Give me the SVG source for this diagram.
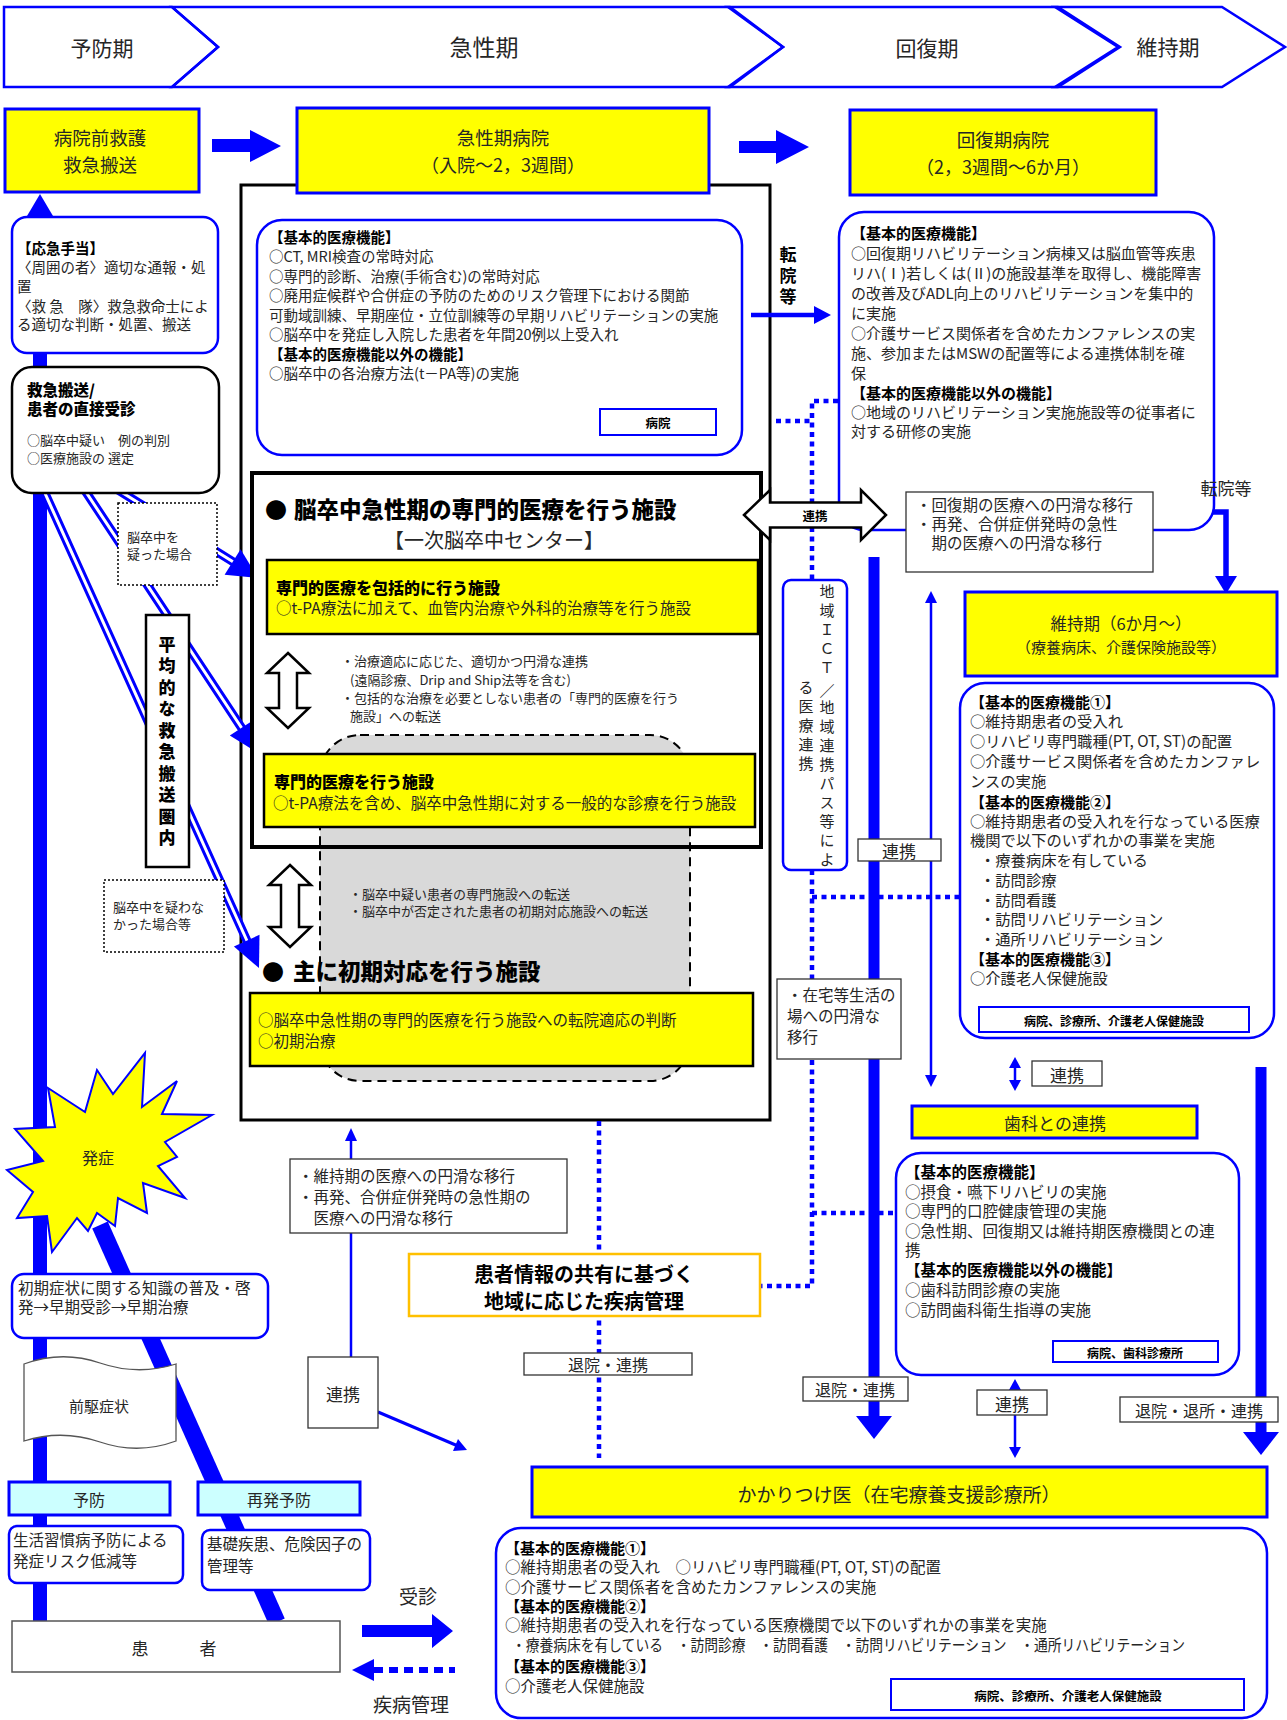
<svg xmlns="http://www.w3.org/2000/svg" width="1287" height="1720" viewBox="0 0 1287 1720">
<defs>
<style>
text{font-family:"Noto Sans CJK JP","Noto Sans CJK SC",sans-serif;dominant-baseline:central;fill:#262626}
.b{font-weight:bold;fill:#000}
.h{font-weight:900;fill:#000}
.c{text-anchor:middle}
.v{writing-mode:vertical-rl}
.yb{fill:#ff0;stroke:#00f;stroke-width:3}
.yk{fill:#ff0;stroke:#000;stroke-width:2.5}
.rb{fill:#fff;stroke:#00f;stroke-width:2.5}
.lb{fill:#fff;stroke:#333;stroke-width:1.3}
.sb{fill:#fff;stroke:#00f;stroke-width:2}
.dt{fill:#fff;stroke:#000;stroke-width:1.5;stroke-dasharray:2 2}
.dot{fill:none;stroke:#00f;stroke-width:4.5;stroke-dasharray:5 4.5}
.thick{fill:none;stroke:#00f;stroke-width:11}
.thin{fill:none;stroke:#00f;stroke-width:2.5}
.ah{fill:#00f}
.dl{fill:none;stroke:#00f;stroke-width:9}
.dw{fill:none;stroke:#fff;stroke-width:3}
.hollow{fill:#fff;stroke:#000;stroke-width:2.5}
.ph{fill:none;stroke:#00f;stroke-width:2.5}
</style>
</defs>
<rect x="0" y="0" width="1287" height="1720" fill="#fff"/>

<!-- phase banner -->
<g id="phase-iji">
<polygon points="1055,7 1222,7 1285,47 1222,87 1055,87 1118,47" fill="#fff" class="ph"/>
<text x="1168" y="46" class="c" font-size="21">維持期</text>
</g>
<g id="phase-kaifuku">
<polygon points="728,7 1058,7 1120,47 1058,87 728,87 783,47" fill="#ccffff" class="ph"/>
<text x="927" y="47" class="c" font-size="21">回復期</text>
</g>
<g id="phase-kyusei">
<polygon points="172,7 730,7 783,47 730,87 172,87 218,47" fill="#00ffff" class="ph"/>
<text x="484" y="46" class="c" font-size="23">急性期</text>
</g>
<g id="phase-yobo">
<polygon points="4,7 172,7 218,47 172,87 4,87" fill="#fff" class="ph"/>
<text x="102" y="47" class="c" font-size="21">予防期</text>
</g>

<!-- acute container -->
<g id="acute-container">
<rect x="241" y="185" width="529" height="935" fill="#fff" stroke="#000" stroke-width="3"/>
</g>

<g id="connectors">
<!-- left main bar -->
<line x1="40" y1="214" x2="40" y2="1622" stroke="#00f" stroke-width="14"/>
<polygon class="ah" points="27,216 53,216 40,194"/>
<!-- thick diagonal -->
<line x1="100" y1="1225" x2="277" y2="1622" stroke="#00f" stroke-width="17"/>
<!-- double lines -->
<path class="dl" d="M39,480 L248,943 M78,480 L243,730 M102,480 L235,563"/>
<path class="dw" d="M39,480 L248,943 M78,480 L243,730 M102,480 L235,563"/>
<polygon class="ah" points="259,968 259.5,934.8 233.9,946.4"/>
<polygon class="ah" points="258,753 253.2,720.2 229.8,735.6"/>
<polygon class="ah" points="258,578 240.6,549.3 224.6,574.7"/>
<!-- top block arrows -->
<polygon class="ah" points="212,139 250,139 250,130 281,146 250,162 250,152 212,152"/>
<polygon class="ah" points="739,141 776,141 776,130 809,147 776,164 776,153 739,153"/>
<!-- 転院等 arrow -->
<line x1="751" y1="315" x2="815" y2="315" stroke="#00f" stroke-width="4.5"/>
<polygon class="ah" points="814,306 831,315 814,324"/>
<!-- dotted network -->
<polyline class="dot" points="776,421 812,421"/>
<polyline class="dot" points="838,401 812,401 812,580"/>
<polyline class="dot" points="812,870 812,1286 760,1286"/>
<polyline class="dot" points="812,897 962,897"/>
<polyline class="dot" points="812,1213 896,1213"/>
<line class="dot" x1="599" y1="1121" x2="599" y2="1458"/>
<!-- thick vertical 874 -->
<line class="thick" x1="874" y1="557" x2="874" y2="1418"/>
<polygon class="ah" points="856,1416 892,1416 874,1439"/>
<!-- thin 931 -->
<line class="thin" x1="931" y1="600" x2="931" y2="1078"/>
<polygon class="ah" points="925,603 937,603 931,591"/>
<polygon class="ah" points="925,1075 937,1075 931,1087"/>
<!-- small double arrows 1015 -->
<line class="thin" x1="1015" y1="1064" x2="1015" y2="1084"/>
<polygon class="ah" points="1009,1068 1021,1068 1015,1057"/>
<polygon class="ah" points="1009,1080 1021,1080 1015,1091"/>
<line class="thin" x1="1015" y1="1386" x2="1015" y2="1451"/>
<polygon class="ah" points="1009,1390 1021,1390 1015,1379"/>
<polygon class="ah" points="1009,1447 1021,1447 1015,1458"/>
<!-- right thick -->
<line class="thick" x1="1261" y1="1067" x2="1261" y2="1434"/>
<polygon class="ah" points="1243,1432 1279,1432 1261,1455"/>
<!-- 回復期 -> 維持期 -->
<polyline points="1159,512 1226,512 1226,578" fill="none" stroke="#00f" stroke-width="5.5"/>
<polygon class="ah" points="1215,576 1237,576 1226,594"/>
<!-- thin 351 -->
<line class="thin" x1="351" y1="1137" x2="351" y2="1357"/>
<polygon class="ah" points="345,1141 357,1141 351,1128"/>
<!-- 連携 -> lower right -->
<line x1="378" y1="1412" x2="458" y2="1446" stroke="#00f" stroke-width="3"/>
<polygon class="ah" points="467,1450 453,1451 458,1439"/>
<!-- 受診 arrow -->
<polygon class="ah" points="362,1625 432,1625 432,1614 453,1631 432,1648 432,1637 362,1637"/>
<!-- 疾病管理 dashed arrow -->
<line x1="374" y1="1670" x2="455" y2="1670" stroke="#00f" stroke-width="6" stroke-dasharray="9 6"/>
<polygon class="ah" points="352,1670 374,1659 374,1681"/>
</g>

<!-- top row boxes -->
<g id="prehospital">
<rect x="5" y="109" width="194" height="83" class="yb"/>
<text x="100" y="137" class="c" font-size="18.5">病院前救護</text>
<text x="100" y="164" class="c" font-size="18.5">救急搬送</text>
</g>
<g id="acute-hospital">
<rect x="297" y="108" width="412" height="85" class="yb"/>
<text x="503" y="137" class="c" font-size="18.5">急性期病院</text>
<text x="503" y="164" class="c" font-size="18">（入院～2，3週間）</text>
</g>
<g id="recovery-hospital">
<rect x="850" y="110" width="306" height="85" class="yb"/>
<text x="1003" y="139" class="c" font-size="18.5">回復期病院</text>
<text x="1003" y="166" class="c" font-size="18">（2，3週間～6か月）</text>
</g>

<!-- left column -->
<g id="first-aid">
<rect x="12" y="217" width="206" height="136" rx="15" class="rb"/>
<text x="17" y="247" class="b" font-size="14.5">【応急手当】</text>
<text x="17" y="266" font-size="14.5">〈周囲の者〉適切な通報・処</text>
<text x="17" y="285" font-size="14.5">置</text>
<text x="17" y="305" font-size="14.5">〈救 急　隊〉救急救命士によ</text>
<text x="17" y="323" font-size="14.5">る適切な判断・処置、搬送</text>
</g>
<g id="transport">
<rect x="12" y="367" width="207" height="126" rx="20" fill="#fff" stroke="#000" stroke-width="2.5"/>
<text x="27" y="389" class="h" font-size="15.5">救急搬送/</text>
<text x="27" y="408" class="h" font-size="15.5">患者の直接受診</text>
<text x="27" y="439" font-size="13" fill="#000">○脳卒中疑い　例の判別</text>
<text x="27" y="457" font-size="13" fill="#000">○医療施設の 選定</text>
</g>
<g id="suspected">
<rect x="118" y="503" width="99" height="82" class="dt"/>
<text x="127" y="536" font-size="13" fill="#000">脳卒中を</text>
<text x="127" y="553" font-size="13" fill="#000">疑った場合</text>
</g>
<g id="average-area">
<rect x="146" y="615" width="43" height="252" fill="#fff" stroke="#000" stroke-width="2.5"/>
<text x="167" y="636" class="h v" font-size="17" letter-spacing="4.5">平均的な救急搬送圏内</text>
</g>
<g id="not-suspected">
<rect x="104" y="880" width="120" height="72" class="dt"/>
<text x="113" y="906" font-size="13" fill="#000">脳卒中を疑わな</text>
<text x="113" y="923" font-size="13" fill="#000">かった場合等</text>
</g>

<!-- acute inner content -->
<g id="acute-functions">
<rect x="257" y="220" width="485" height="235" rx="25" class="rb"/>
<text x="269" y="236" class="b" font-size="14.5">【基本的医療機能】</text>
<text x="269" y="255.5" font-size="14.5">○CT, MRI検査の常時対応</text>
<text x="269" y="275" font-size="14.5">○専門的診断、治療(手術含む)の常時対応</text>
<text x="269" y="294.5" font-size="14.5">○廃用症候群や合併症の予防のためのリスク管理下における関節</text>
<text x="269" y="314" font-size="14.5">可動域訓練、早期座位・立位訓練等の早期リハビリテーションの実施</text>
<text x="269" y="333.5" font-size="14.5">○脳卒中を発症し入院した患者を年間20例以上受入れ</text>
<text x="269" y="353" class="b" font-size="14.5">【基本的医療機能以外の機能】</text>
<text x="269" y="372.5" font-size="14.5">○脳卒中の各治療方法(t－PA等)の実施</text>
<rect x="600" y="409" width="116" height="26" class="sb"/>
<text x="658" y="422" class="b c" font-size="12.5">病院</text>
</g>
<g id="stroke-center">
<rect x="252" y="473" width="509" height="374" fill="#fff"/>
<rect x="320" y="735" width="370" height="346" rx="40" fill="#d9d9d9" stroke="#000" stroke-width="2" stroke-dasharray="9 6"/>
<rect x="252" y="473" width="509" height="374" fill="none" stroke="#000" stroke-width="4"/>
<text x="276" y="508" class="h c" font-size="22">●</text>
<text x="294" y="508" class="h" font-size="22.5">脳卒中急性期の専門的医療を行う施設</text>
<text x="494" y="539" class="c" font-size="20" fill="#000">【一次脳卒中センター】</text>
</g>
<g id="comprehensive">
<rect x="267" y="560" width="491" height="74" class="yk"/>
<text x="276" y="587" class="h" font-size="16">専門的医療を包括的に行う施設</text>
<text x="276" y="607" font-size="15.5" fill="#000">○t-PA療法に加えて、血管内治療や外科的治療等を行う施設</text>
</g>
<g id="link1">
<polygon class="hollow" points="288,653 309,673 297,673 297,708 309,708 288,728 267,708 279,708 279,673 267,673"/>
<text x="341" y="660" font-size="13">・治療適応に応じた、適切かつ円滑な連携</text>
<text x="350" y="679" font-size="13">(遠隔診療、Drip and Ship法等を含む)</text>
<text x="341" y="697" font-size="13">・包括的な治療を必要としない患者の「専門的医療を行う</text>
<text x="350" y="715" font-size="13">施設」への転送</text>
</g>
<g id="specialized">
<rect x="264" y="754" width="491" height="73" class="yk"/>
<text x="274" y="781" class="h" font-size="16">専門的医療を行う施設</text>
<text x="273" y="802" font-size="15.5" fill="#000">○t-PA療法を含め、脳卒中急性期に対する一般的な診療を行う施設</text>
</g>
<g id="link2">
<polygon class="hollow" points="290,865 311,885 299,885 299,927 311,927 290,947 269,927 281,927 281,885 269,885"/>
<text x="349" y="893" font-size="13">・脳卒中疑い患者の専門施設への転送</text>
<text x="349" y="910" font-size="13">・脳卒中が否定された患者の初期対応施設への転送</text>
</g>
<g id="initial">
<text x="273" y="970" class="h c" font-size="22">●</text>
<text x="293" y="970" class="h" font-size="22.5">主に初期対応を行う施設</text>
<rect x="250" y="993" width="503" height="73" class="yk"/>
<text x="258" y="1019" font-size="15.5" fill="#000">○脳卒中急性期の専門的医療を行う施設への転院適応の判断</text>
<text x="258" y="1040" font-size="15.5" fill="#000">○初期治療</text>
</g>

<!-- recovery column -->
<g id="transfer-label">
<text x="788" y="246.5" class="b v" font-size="17" letter-spacing="4">転院等</text>
</g>
<g id="recovery-functions">
<rect x="839" y="212" width="375" height="318" rx="25" class="rb"/>
<text x="851" y="232" class="b" font-size="15">【基本的医療機能】</text>
<text x="851" y="252" font-size="15">○回復期リハビリテーション病棟又は脳血管等疾患</text>
<text x="851" y="272" font-size="15">リハ(Ⅰ)若しくは(Ⅱ)の施設基準を取得し、機能障害</text>
<text x="851" y="292" font-size="15">の改善及びADL向上のリハビリテーションを集中的</text>
<text x="851" y="312" font-size="15">に実施</text>
<text x="851" y="332" font-size="15">○介護サービス関係者を含めたカンファレンスの実</text>
<text x="851" y="352" font-size="15">施、参加またはMSWの配置等による連携体制を確</text>
<text x="851" y="372" font-size="15">保</text>
<text x="851" y="392" class="b" font-size="15">【基本的医療機能以外の機能】</text>
<text x="851" y="411" font-size="15">○地域のリハビリテーション実施施設等の従事者に</text>
<text x="851" y="430" font-size="15">対する研修の実施</text>
</g>
<g id="renkei-arrow">
<polygon class="hollow" points="744,515 770,490 770,502.5 861,502.5 861,490 886,515 861,540 861,527.5 770,527.5 770,540"/>
<text x="815" y="515" class="b c" font-size="12.5">連携</text>
</g>
<g id="recovery-transition">
<rect x="906" y="492" width="247" height="80" class="lb"/>
<text x="916" y="504" font-size="15.5" fill="#111">・回復期の医療への円滑な移行</text>
<text x="916" y="523" font-size="15.5" fill="#111">・再発、合併症併発時の急性</text>
<text x="916" y="542" font-size="15.5" fill="#111">　期の医療への円滑な移行</text>
</g>
<g id="transfer-label2">
<text x="1226" y="487" class="c" font-size="17" fill="#111">転院等</text>
</g>
<g id="ict">
<rect x="783" y="580" width="64" height="290" rx="8" class="rb" stroke-width="3"/>
<text x="827" y="583.5" class="v" font-size="15" letter-spacing="4">地域ＩＣＴ</text>
<text x="827" y="690" class="c" font-size="15">／</text>
<text x="827" y="699.5" class="v" font-size="15" letter-spacing="4">地域連携パス等によ</text>
<text x="806" y="679.5" class="v" font-size="15" letter-spacing="4">る医療連携</text>
</g>
<g id="renkei-label1">
<rect x="858" y="839" width="83" height="22" class="lb"/>
<text x="899" y="850" class="c" font-size="17">連携</text>
</g>
<g id="home-transition">
<rect x="777" y="979" width="124" height="80" class="lb"/>
<text x="787" y="994" font-size="15.5" fill="#111">・在宅等生活の</text>
<text x="787" y="1015" font-size="15.5" fill="#111">場への円滑な</text>
<text x="787" y="1036" font-size="15.5" fill="#111">移行</text>
</g>
<g id="discharge1">
<rect x="803" y="1377" width="105" height="24" class="lb"/>
<text x="855" y="1389" class="c" font-size="16">退院・連携</text>
</g>

<!-- maintenance column -->
<g id="maintenance">
<rect x="965" y="592" width="312" height="84" class="yb"/>
<text x="1121" y="623" class="c" font-size="16.5">維持期（6か月～）</text>
<text x="1121" y="646" class="c" font-size="15">（療養病床、介護保険施設等）</text>
</g>
<g id="maintenance-functions">
<rect x="960" y="683" width="314" height="355" rx="25" class="rb"/>
<text x="970" y="701" class="b" font-size="15">【基本的医療機能①】</text>
<text x="970" y="720" font-size="15.3">○維持期患者の受入れ</text>
<text x="970" y="740" font-size="15.3">○リハビリ専門職種(PT, OT, ST)の配置</text>
<text x="970" y="760" font-size="15.3">○介護サービス関係者を含めたカンファレ</text>
<text x="970" y="780" font-size="15.3">ンスの実施</text>
<text x="970" y="801" class="b" font-size="15">【基本的医療機能②】</text>
<text x="970" y="820" font-size="15.3">○維持期患者の受入れを行なっている医療</text>
<text x="970" y="839" font-size="15.3">機関で以下のいずれかの事業を実施</text>
<text x="980" y="859" font-size="15.3">・療養病床を有している</text>
<text x="980" y="879" font-size="15.3">・訪問診療</text>
<text x="980" y="899" font-size="15.3">・訪問看護</text>
<text x="980" y="918" font-size="15.3">・訪問リハビリテーション</text>
<text x="980" y="938" font-size="15.3">・通所リハビリテーション</text>
<text x="970" y="958" class="b" font-size="15">【基本的医療機能③】</text>
<text x="970" y="977" font-size="15.3">○介護老人保健施設</text>
<rect x="979" y="1007" width="270" height="25" class="sb"/>
<text x="1114" y="1020" class="b c" font-size="12">病院、診療所、介護老人保健施設</text>
</g>
<g id="renkei-label2">
<rect x="1032" y="1061" width="70" height="25" class="lb"/>
<text x="1067" y="1074" class="c" font-size="17">連携</text>
</g>
<g id="dental">
<rect x="912" y="1106" width="285" height="32" class="yb"/>
<text x="1055" y="1122" class="c" font-size="17">歯科との連携</text>
</g>
<g id="dental-functions">
<rect x="896" y="1153" width="343" height="222" rx="25" class="rb"/>
<text x="905" y="1171" class="b" font-size="15.5">【基本的医療機能】</text>
<text x="905" y="1190.5" font-size="15.5">○摂食・嚥下リハビリの実施</text>
<text x="905" y="1210" font-size="15.5">○専門的口腔健康管理の実施</text>
<text x="905" y="1229.5" font-size="15.5">○急性期、回復期又は維持期医療機関との連</text>
<text x="905" y="1249" font-size="15.5">携</text>
<text x="905" y="1269" class="b" font-size="15.5">【基本的医療機能以外の機能】</text>
<text x="905" y="1289" font-size="15.5">○歯科訪問診療の実施</text>
<text x="905" y="1309" font-size="15.5">○訪問歯科衛生指導の実施</text>
<rect x="1053" y="1341" width="165" height="21" class="sb"/>
<text x="1135" y="1352" class="b c" font-size="12">病院、歯科診療所</text>
</g>
<g id="renkei-label3">
<rect x="977" y="1390" width="70" height="25" class="lb"/>
<text x="1012" y="1403" class="c" font-size="17">連携</text>
</g>
<g id="discharge3">
<rect x="1120" y="1397" width="158" height="25" class="lb"/>
<text x="1199" y="1410" class="c" font-size="16">退院・退所・連携</text>
</g>

<!-- center lower -->
<g id="maintenance-transition">
<rect x="290" y="1159" width="277" height="74" class="lb"/>
<text x="298" y="1175" font-size="15.5" fill="#111">・維持期の医療への円滑な移行</text>
<text x="298" y="1196" font-size="15.5" fill="#111">・再発、合併症併発時の急性期の</text>
<text x="298" y="1217" font-size="15.5" fill="#111">　医療への円滑な移行</text>
</g>
<g id="disease-management">
<rect x="409" y="1254" width="351" height="62" fill="#fff" stroke="#ffc000" stroke-width="2.5"/>
<text x="584" y="1273" class="b c" font-size="20">患者情報の共有に基づく</text>
<text x="584" y="1300" class="b c" font-size="20">地域に応じた疾病管理</text>
</g>
<g id="discharge2">
<rect x="524" y="1353" width="168" height="22" class="lb"/>
<text x="608" y="1364" class="c" font-size="16">退院・連携</text>
</g>
<g id="renkei-label4">
<rect x="308" y="1357" width="70" height="71" class="lb"/>
<text x="343" y="1393" class="c" font-size="17">連携</text>
</g>

<!-- home doctor -->
<g id="home-doctor">
<rect x="532" y="1467" width="735" height="50" class="yb"/>
<text x="899" y="1493" class="c" font-size="19">かかりつけ医（在宅療養支援診療所）</text>
</g>
<g id="home-doctor-functions">
<rect x="496" y="1528" width="771" height="190" rx="25" class="rb"/>
<text x="505" y="1547" class="b" font-size="15">【基本的医療機能①】</text>
<text x="505" y="1566" font-size="15.5">○維持期患者の受入れ　○リハビリ専門職種(PT, OT, ST)の配置</text>
<text x="505" y="1586" font-size="15.5">○介護サービス関係者を含めたカンファレンスの実施</text>
<text x="505" y="1605" class="b" font-size="15">【基本的医療機能②】</text>
<text x="505" y="1624" font-size="15.5">○維持期患者の受入れを行なっている医療機関で以下のいずれかの事業を実施</text>
<text x="512" y="1644" font-size="15.5" textLength="673" lengthAdjust="spacingAndGlyphs">・療養病床を有している　・訪問診療　・訪問看護　・訪問リハビリテーション　・通所リハビリテーション</text>
<text x="505" y="1665" class="b" font-size="15">【基本的医療機能③】</text>
<text x="505" y="1685" font-size="15.5">○介護老人保健施設</text>
<rect x="891" y="1679" width="353" height="31" class="sb"/>
<text x="1068" y="1695" class="b c" font-size="12.5">病院、診療所、介護老人保健施設</text>
</g>

<!-- bottom left -->
<g id="onset">
<polygon points="145,1053 142,1107 177,1081 162,1114 212,1115 165,1142 177,1157 158,1166 185,1198 143,1183 147,1213 118,1198 115,1226 97,1213 88,1231 77,1218 52,1252 47,1216 17,1218 33,1192 7,1170 43,1161 15,1129 55,1127 48,1088 85,1112 97,1070 113,1094" fill="#ff0" stroke="#00f" stroke-width="2"/>
<text x="98" y="1157" class="c" font-size="16" fill="#111">発症</text>
</g>
<g id="awareness">
<rect x="12" y="1274" width="256" height="64" rx="12" class="rb"/>
<text x="18" y="1287" font-size="15.5" fill="#111">初期症状に関する知識の普及・啓</text>
<text x="18" y="1306" font-size="15.5" fill="#111">発→早期受診→早期治療</text>
</g>
<g id="prodrome">
<path d="M24,1364 Q62,1350 100,1363 T176,1364 L176,1441 Q138,1455 100,1442 T24,1441 Z" fill="#fff" stroke="#555" stroke-width="1.3"/>
<text x="99" y="1405" class="c" font-size="15" fill="#111">前駆症状</text>
</g>
<g id="prevention">
<rect x="9" y="1482" width="161" height="33" fill="#ccffff" stroke="#00f" stroke-width="3"/>
<text x="89" y="1499" class="c" font-size="16" fill="#111">予防</text>
</g>
<g id="recurrence-prevention">
<rect x="198" y="1482" width="162" height="33" fill="#ccffff" stroke="#00f" stroke-width="3"/>
<text x="279" y="1499" class="c" font-size="16" fill="#111">再発予防</text>
</g>
<g id="lifestyle">
<rect x="9" y="1526" width="174" height="57" rx="8" class="rb"/>
<text x="13" y="1539" font-size="15.5" fill="#111">生活習慣病予防による</text>
<text x="13" y="1560" font-size="15.5" fill="#111">発症リスク低減等</text>
</g>
<g id="risk-factors">
<rect x="202" y="1530" width="168" height="60" rx="8" class="rb"/>
<text x="207" y="1543" font-size="15.5" fill="#111">基礎疾患、危険因子の</text>
<text x="207" y="1565" font-size="15.5" fill="#111">管理等</text>
</g>
<g id="patient">
<rect x="12" y="1621" width="328" height="51" fill="#fff" stroke="#555" stroke-width="1.5"/>
<text x="174" y="1647" class="c" font-size="17" fill="#111">患　　　者</text>
</g>
<g id="legend">
<text x="418" y="1595" class="c" font-size="19" fill="#111">受診</text>
<text x="411" y="1703" class="c" font-size="19" fill="#111">疾病管理</text>
</g>
</svg>
